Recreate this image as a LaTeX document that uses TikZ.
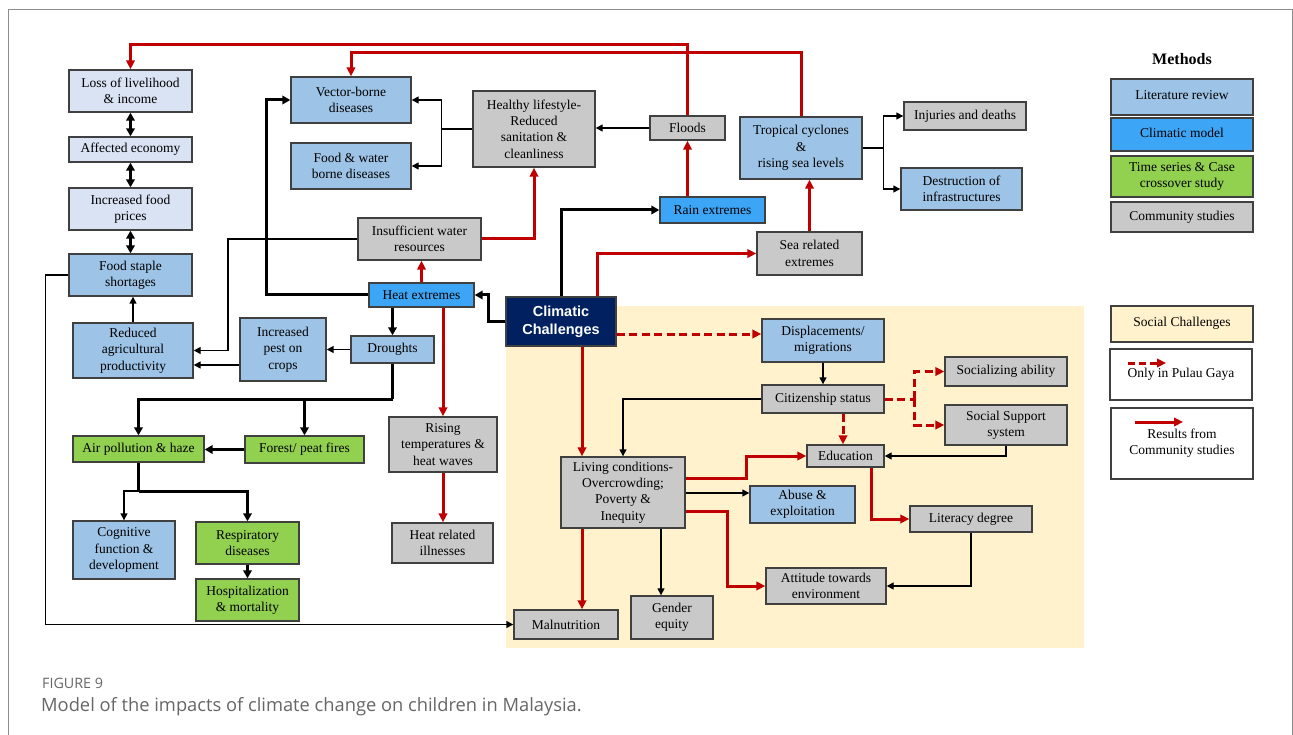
\documentclass[tikz,border=0pt]{standalone}
\usepackage{fontspec}
\setmainfont{Liberation Serif}
\newfontfamily\ccfont{Liberation Sans}
\newfontfamily\capfont{Open Sans}
\usetikzlibrary{arrows.meta}
\definecolor{lbx}{HTML}{DAE3F3}
\definecolor{litb}{HTML}{9DC3E6}
\definecolor{climb}{HTML}{3DA5F5}
\definecolor{grnb}{HTML}{92D050}
\definecolor{gryb}{HTML}{C9C9C9}
\definecolor{navyb}{HTML}{002060}
\definecolor{socb}{HTML}{FFF2CC}
\definecolor{myred}{HTML}{C00000}
\definecolor{bord}{HTML}{404040}
\definecolor{frameg}{HTML}{8C8C8C}
\definecolor{capg}{HTML}{666666}
\newcommand\bx[7]{\node[box,#1,minimum width={(#5)-(#3)},minimum height={(#6)-(#4)}] (#2) at ({((#3)+(#5))/2},{((#4)+(#6))/2}) {#7};}
\tikzset{
  box/.style={draw=bord,line width=1.4pt,inner sep=1pt,align=center,font=\fontsize{13.5}{16.3}\selectfont},
  lb/.style={fill=lbx},
  lit/.style={fill=litb},
  clim/.style={fill=climb},
  grn/.style={fill=grnb},
  gry/.style={fill=gryb},
  navy/.style={fill=navyb,text=white,font=\ccfont\bfseries\fontsize{14.5}{18}\selectfont},
  soc/.style={fill=socb},
  wht/.style={fill=white},
  thk/.style={line width=3pt,-{Triangle[length=8pt,width=8.5pt]}},
  thkd/.style={line width=3pt,{Triangle[length=8pt,width=8.5pt]}-{Triangle[length=8pt,width=8.5pt]}},
  thn/.style={line width=1.4pt,-{Triangle[length=7pt,width=7pt]}},
  rd/.style={draw=myred,line width=3pt,-{Triangle[length=9pt,width=8.5pt]}},
  rdd/.style={rd,dash pattern=on 8pt off 4.5pt},
}
\begin{document}
\begin{tikzpicture}[x=1pt,y=-1pt]
\useasboundingbox (0,0) rectangle (1293,735);
\fill[white] (0,0) rectangle (1293,735);
\draw[draw=frameg,line width=1pt] (8,770) -- (8,10) -- (1292,10) -- (1292,770);
\fill[socb] (506,306) rectangle (1084,648);

% left column
\bx{lb}{loss}{69}{70}{192}{112}{Loss of livelihood\\\& income}
\bx{lb}{econ}{69}{137}{192}{162}{Affected economy}
\bx{lb}{price}{69}{188}{192}{230}{Increased food\\prices}
\bx{lit}{staple}{69}{254}{192}{296}{Food staple\\shortages}
\bx{lit}{reduced}{73}{323}{193}{378}{Reduced\\agricultural\\productivity}
\bx{lit}{vector}{291}{77}{411}{123}{Vector-borne\\diseases}
\bx{lit}{foodw}{291}{143}{411}{189}{Food \& water\\borne diseases}
\bx{gry}{healthy}{473}{91}{595}{167}{Healthy lifestyle-\\Reduced\\sanitation \&\\cleanliness}
\bx{gry}{floods}{650}{116}{725}{140}{Floods}
\bx{lit}{tropical}{740}{117}{862}{179}{Tropical cyclones\\\&\\rising sea levels}
\bx{gry}{injuries}{904}{102}{1026}{130}{Injuries and deaths}
\bx{lit}{destr}{901}{168}{1022}{210}{Destruction of\\infrastructures}
\bx{clim}{rain}{660}{197}{765}{223}{Rain extremes}
\bx{gry}{sea}{757}{232}{862}{275}{Sea related\\extremes}
\bx{gry}{insuff}{358}{218}{481}{260}{Insufficient water\\resources}
\bx{clim}{heat}{369}{283}{474}{307}{Heat extremes}
\bx{navy}{cc}{506}{297}{616}{346}{Climatic\\Challenges}
\bx{lit}{pest}{240}{318}{326}{381}{Increased\\pest on\\crops}
\bx{lit}{drought}{351}{336}{434}{363}{Droughts}
\bx{grn}{air}{73}{436}{204}{462}{Air pollution \& haze}
\bx{grn}{forest}{245}{436}{364}{463}{Forest/ peat fires}
\bx{lit}{cog}{73}{521}{175}{579}{Cognitive\\function \&\\development}
\bx{grn}{resp}{196}{522}{299}{564}{Respiratory\\diseases}
\bx{grn}{hosp}{196}{579}{299}{621}{Hospitalization\\\& mortality}
\bx{gry}{rising}{389}{417}{497}{472}{Rising\\temperatures \&\\heat waves}
\bx{gry}{heatill}{392}{523}{493}{563}{Heat related\\illnesses}
\bx{lit}{displ}{762}{319}{884}{362}{Displacements/\\migrations}
\bx{gry}{citiz}{762}{385}{884}{413}{Citizenship status}
\bx{gry}{living}{561}{457}{685}{528}{Living conditions-\\Overcrowding;\\Poverty \&\\Inequity}
\bx{gry}{malnut}{514}{610}{618}{639}{Malnutrition}
\bx{gry}{gender}{631}{596}{713}{639}{Gender\\equity}
\bx{gry}{educ}{807}{445}{884}{467}{Education}
\bx{lit}{abuse}{750}{486}{855}{523}{Abuse \&\\exploitation}
\bx{gry}{attit}{766}{568}{886}{604}{Attitude towards\\environment}
\bx{gry}{social}{945}{357}{1067}{386}{Socializing ability}
\bx{gry}{support}{945}{405}{1067}{445}{Social Support\\system}
\bx{gry}{literacy}{910}{506}{1032}{532}{Literacy degree}

% legend
\node[font=\bfseries\fontsize{16}{19}\selectfont] (meth) at (1182,59) {Methods};
\bx{lit}{l1}{1111}{79}{1253}{115}{\raisebox{4pt}{Literature review}}
\bx{clim}{l2}{1111}{118}{1253}{151}{\raisebox{3pt}{Climatic model}}
\bx{grn}{l3}{1111}{156}{1253}{197}{Time series \& Case\\crossover study}
\bx{gry}{l4}{1111}{202}{1253}{232}{Community studies}
\bx{soc}{l5}{1111}{306}{1253}{342}{\raisebox{5pt}{Social Challenges}}
\bx{wht}{l6}{1110}{349}{1252}{400}{\raisebox{-4pt}{Only in Pulau Gaya}}
\bx{wht}{l7}{1111}{408}{1253}{479}{\raisebox{-2pt}{\begin{tabular}{@{}c@{}}Results from\\Community studies\end{tabular}}}
\coordinate (p1a) at (1128,363);
\coordinate (p1b) at (1166,363);
\draw[rdd,dash pattern=on 7pt off 4pt] (p1a) -- (p1b);
\coordinate (p2a) at (1135,422);
\coordinate (p2b) at (1183,422);
\draw[rd] (p2a) -- (p2b);

% connectors: left chain
\draw[thkd] (loss.south) -- (econ.north);
\draw[thkd] (econ.south) -- (price.north);
\draw[thkd] (price.south) -- (staple.north);
\draw[thn] (reduced.north) -- (reduced.north |- staple.south);
\draw[thn] (staple.west) -- ++(-23,0) |- (malnut.west);
\draw[thn] (insuff.west) -- (228,0 |- insuff.west) |- (reduced.east);
\draw[thn] (pest.west |- 0,365) -- (reduced.east |- 0,365);
\draw[thn] (drought.west) -- (drought.west -| pest.east);

% healthy lifestyle
\coordinate (hj) at ([xshift=-31pt]healthy.west);
\draw[line width=1.4pt] (healthy.west) -- (hj);
\draw[thn] (hj) |- (vector.east);
\draw[thn] (hj) |- (foodw.east);
\draw[thn] (floods.west) -- (floods.west -| healthy.east);

% top red lines
\draw[rd] (floods.north) |- (loss.north |- 0,45) -- (loss.north);
\draw[rd] (tropical.north) |- (vector.north |- 0,53) -- (vector.north);
\draw[rd] (floods.south |- rain.north) -- (floods.south);
\draw[rd] (sea.north) -- (sea.north |- tropical.south);

% tropical branches
\coordinate (tj) at ([xshift=21pt]tropical.east);
\draw[line width=1.4pt] (tropical.east) -- (tj);
\draw[thn] (tj) |- (injuries.west);
\draw[thn] (tj) |- (destr.west);

% climatic challenges
\draw[thk] (561,0 |- cc.north) |- (rain.west);
\draw[rd] (597,0 |- cc.north) |- (sea.west);
\draw[thk] (cc.west) -- ++(-17,0) |- (heat.east);
\draw[rd] (insuff.east) -| (healthy.south);
\draw[rd] (heat.north) -- (heat.north |- insuff.south);
\draw[thk] (heat.west) -- ++(-102,0) |- (vector.west);
\draw[thk] (drought.north |- heat.south) -- (drought.north);
\draw[rd] (rising.north |- heat.south) -- (rising.north);
\draw[rd] (rising.south) -- (rising.south |- heatill.north);

% droughts to fires
\coordinate (dj) at (drought.south |- 0,399);
\draw[line width=3pt] (drought.south) -- (dj);
\draw[thk] (dj) -| (air.north);
\draw[thk] (forest.north |- dj) -- (forest.north);
\draw[thk] (forest.west) -- (forest.west -| air.east);
\coordinate (aj) at (air.south |- 0,491);
\draw[line width=3pt] (air.south) -- (aj);
\draw[thk] (aj) -| (resp.north);
\draw[thn] (aj) -| (cog.north);
\draw[thk] (resp.south) -- (hosp.north);

% social challenges
\draw[rdd] (cc.east |- 0,334) -- (displ.west |- 0,334);
\draw[thn] (displ.south) -- (citiz.north);
\draw[thn] (citiz.west) -| (living.north);
\draw[rd] (582,0 |- cc.south) -- (582,0 |- living.north);
\draw[rd] (582,0 |- living.south) -- (582,0 |- malnut.north);
\draw[thn] (661,0 |- living.south) -- (661,0 |- gender.north);
\draw[rd] (living.east |- 0,478) -- (746,478) |- (educ.west);
\draw[thn] (living.east |- 0,493) -- (abuse.west |- 0,493);
\draw[rd] (living.east |- 0,511) -- (727,511) |- (attit.west);
\draw[rdd] (843,0 |- citiz.south) -- (843,0 |- educ.north);
\coordinate (cj) at ([xshift=30pt]citiz.east);
\draw[rdd,-] (citiz.east) -- (cj);
\draw[rdd] (cj) |- (social.west);
\draw[rdd] (cj) |- (support.west);
\draw[thn] (support.south) |- (educ.east);
\draw[rd] (871,0 |- educ.south) |- (literacy.west);
\draw[thn] (literacy.south) |- (attit.east);

% caption
\node[anchor=base west,inner sep=0pt,text=capg,font=\capfont\fontsize{14.3}{16}\selectfont] (fig) at (42,688) {FIGURE 9};
\node[anchor=base west,inner sep=0pt,text=capg,font=\capfont\fontsize{18.3}{21}\selectfont] (capt) at (41,711) {Model of the impacts of climate change on children in Malaysia.};
\end{tikzpicture}
\end{document}
